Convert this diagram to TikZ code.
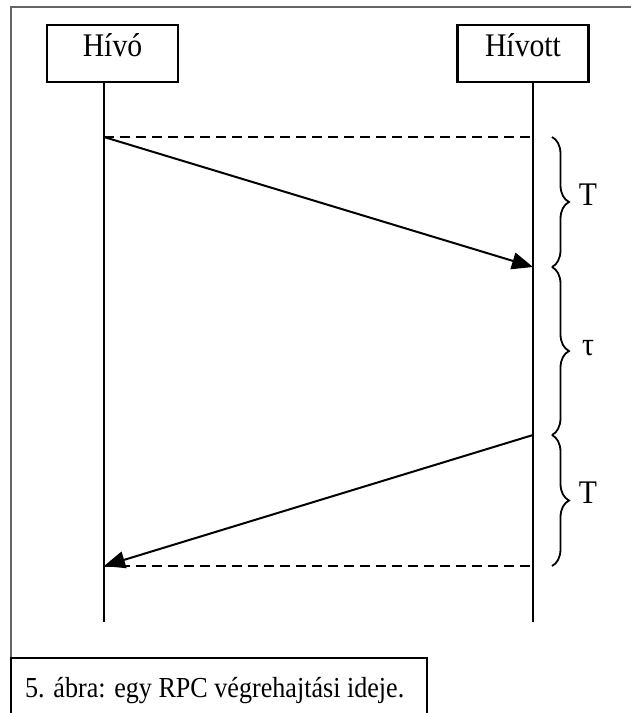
\documentclass[tikz,border=0pt]{standalone}
\usepackage{fontspec}
\setmainfont{Liberation Serif}
\newfontfamily\narrowserif[FakeStretch=0.9]{Liberation Serif}
\usepackage{tikz}
\usetikzlibrary{arrows.meta, positioning, calc, decorations.pathreplacing}
\definecolor{mydark}{RGB}{0,0,0}
\definecolor{framegray}{RGB}{100,100,100}
\tikzset{
  party/.style={rectangle, draw=mydark, fill=white,
    minimum width=131pt, minimum height=57pt, inner sep=0pt,
    text height=0.66em, text depth=0pt,
    font=\narrowserif\fontsize{33}{37}\selectfont, line width=2.2pt},
  lifeline/.style={line width=2pt, color=mydark},
  msgarrow/.style={-{Triangle[length=21pt,width=17pt]}, line width=2pt, color=mydark},
  timeline/.style={dash pattern=on 10pt off 6pt, line width=1.8pt, color=mydark},
  period/.style={decorate, decoration={brace, amplitude=17pt}, line width=1.8pt, color=mydark},
  perlabel/.style={font=\narrowserif\fontsize{33}{37}\selectfont, text height=0.66em, text depth=0pt, inner sep=0pt},
  capbox/.style={line width=1.8pt, color=mydark},
  captext/.style={font=\narrowserif\fontsize{29}{33}\selectfont, inner sep=0pt}
}

\begin{document}
\begin{tikzpicture}[x=1pt, y=-1pt]
  \useasboundingbox (0,0) rectangle (631,713);
  \clip (0,0) rectangle (631,713);

  % Outer frame
  \draw[framegray, line width=1.4pt] (11,730) -- (11,7) -- (660,7);

  % Parties
  \node[party] (caller) at (112.5,53.5) {Hívó};
  \node[party] (callee) at (523,53.5) {Hívott};

  % Lifeline ends and message points
  \coordinate (callerEnd) at (104,622);
  \coordinate (calleeEnd) at (533,622);
  \coordinate (reqOut) at (104,137);
  \coordinate (reqRef) at (533,137);
  \coordinate (reqIn) at (533,267);
  \coordinate (respOut) at (533,435);
  \coordinate (respIn) at (104,566);
  \coordinate (respRef) at (533,566);

  % Lifelines
  \draw[lifeline] (callerEnd |- caller.south) -- (callerEnd);
  \draw[lifeline] (calleeEnd |- callee.south) -- (calleeEnd);

  % Reference lines
  \draw[timeline] (reqOut) -- (reqRef);
  \draw[timeline] (respIn) -- (respRef);

  % Messages
  \draw[msgarrow] (reqOut) -- (reqIn);
  \draw[msgarrow] (respOut) -- (respIn);

  % Time periods
  \coordinate (b0) at (552,137);
  \coordinate (b1) at (552,267);
  \coordinate (b2) at (552,435);
  \coordinate (b3) at (552,566);
  \draw[period] (b0) -- (b1);
  \draw[period] (b1) -- (b2);
  \draw[period] (b2) -- (b3);
  \node[perlabel] (sendT) at (588,202) {T};
  \node[perlabel] (procT) at (588,352) {τ};
  \node[perlabel] (backT) at (588,500) {T};

  % Caption
  \draw[capbox] (11,730) |- (427,658) -- (427,730);
  \node[captext, anchor=base west] (cap) at (25,697) {5. ábra: egy RPC végrehajtási ideje.};
\end{tikzpicture}
\end{document}
